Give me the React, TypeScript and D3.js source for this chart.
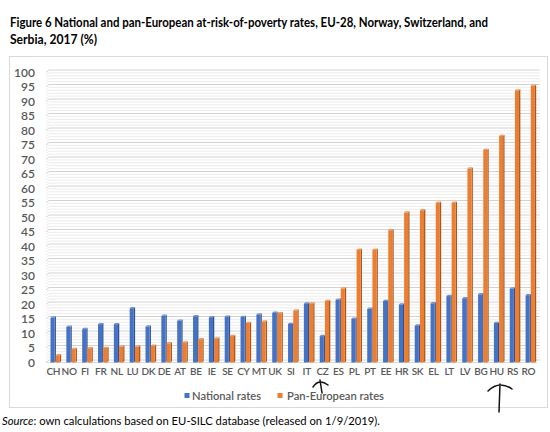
import React from "react";
import * as d3 from "d3";

const categories = ["CH","NO","FI","FR","NL","LU","DK","DE","AT","BE","IE","SE","CY","MT","UK","SI","IT","CZ","ES","PL","PT","EE","HR","SK","EL","LT","LV","BG","HU","RS","RO"];
const nationalRates = [15.5,12.3,11.5,13.2,13.2,18.7,12.4,16.1,14.4,15.9,15.6,15.8,15.7,16.5,17.1,13.3,20.3,9.1,21.6,15.1,18.5,21.2,20.0,12.7,20.4,22.9,22.1,23.5,13.6,25.5,23.2];
const panEuropeanRates = [2.5,4.6,4.9,5.0,5.5,5.5,5.8,6.6,6.9,8.0,8.3,9.1,13.6,14.1,17.0,17.9,20.3,21.2,25.5,38.9,38.9,45.6,51.7,52.5,55.1,55.1,66.9,73.3,78.1,93.8,95.4];
const yTicks = d3.range(0, 101, 5);
const seriesNames = ["National rates", "Pan-European rates"];

const FONT = "Lato, 'Open Sans', sans-serif";
const W = 550, H = 432;

const colors = [
  { front: "#4472C4", side: "#2F528F", top: "#7093D6" },
  { front: "#ED7D31", side: "#A9561E", top: "#F29B60" },
];

export default function App() {
  const x = d3.scaleBand<string>().domain(categories).range([45.4, 536.3]);
  const y = d3.scaleLinear().domain([0, 100]).range([362.5, 72.5]);
  const sub = d3.scaleBand<number>().domain([0, 1]).range([-2.8, 7.4]).paddingInner(0.04);
  const w = sub.bandwidth() - 0.9;
  const d = 1.3;
  const wallDx = 3, wallDy = 2.5;
  const x0 = 46, x1 = 540;
  const minor = d3.range(0, 101, 1).filter((v) => v % 5 !== 0);

  const bars: React.ReactNode[] = [];
  categories.forEach((c, i) => {
    const cx = (x(c) as number) + x.bandwidth() / 2;
    [nationalRates[i], panEuropeanRates[i]].forEach((v, s) => {
      const bx = cx + (sub(s) as number);
      const yt = y(v), yb = y(0);
      const col = colors[s];
      bars.push(
        <g key={c + s}>
          <path d={`M${bx + w},${yb} L${bx + w},${yt} L${bx + w + d},${yt - d} L${bx + w + d},${yb - d} Z`} fill={col.side} />
          <path d={`M${bx},${yt} L${bx + w},${yt} L${bx + w + d},${yt - d} L${bx + d},${yt - d} Z`} fill={col.top} />
          <rect x={bx} y={yt} width={w} height={yb - yt} fill={col.front} />
        </g>
      );
    });
  });

  return (
    <svg width={W} height={H} style={{ position: "absolute", left: 0, top: 0, background: "#fff" }}>
      <text x={10} y={27} fontFamily={FONT} fontWeight={700} fontSize={12.8} fill="#000" textLength={478} lengthAdjust="spacingAndGlyphs">
        Figure 6 National and pan-European at-risk-of-poverty rates, EU-28, Norway, Switzerland, and
      </text>
      <text x={10} y={43.5} fontFamily={FONT} fontWeight={700} fontSize={12.8} fill="#000" textLength={87} lengthAdjust="spacingAndGlyphs">
        Serbia, 2017 (%)
      </text>
      <rect x={9.5} y={56.5} width={538} height={351} fill="#fff" stroke="#d9d9d9" strokeWidth={1} />
      {minor.map((v) => (
        <path key={"m" + v} d={`M${x0},${y(v)} L${x0 + wallDx},${y(v) - wallDy} L${x1},${y(v) - wallDy}`} fill="none" stroke="#ececec" strokeWidth={1} />
      ))}
      {yTicks.map((v) => (
        <path key={"g" + v} d={`M${x0},${y(v)} L${x0 + wallDx},${y(v) - wallDy} L${x1},${y(v) - wallDy}`} fill="none" stroke="#d2d2d2" strokeWidth={1} />
      ))}
      <line x1={x0} x2={x1 - wallDx} y1={y(0)} y2={y(0)} stroke="#d9d9d9" />
      {yTicks.map((v) => (
        <text key={"t" + v} x={35} y={y(v)} dy="0.36em" textAnchor="end" fontFamily={FONT} fontSize={12} fontWeight={600} fill="#595959">
          {v}
        </text>
      ))}
      {bars}
      {categories.map((c) => (
        <text key={"x" + c} x={(x(c) as number) + x.bandwidth() / 2} y={375} textAnchor="middle" fontFamily={FONT} fontSize={10} fontWeight={600} letterSpacing={-0.3} fill="#595959">
          {c}
        </text>
      ))}
      <rect x={184.5} y={393} width={5} height={5} fill={colors[0].front} />
      <text x={192} y={400} fontFamily={FONT} fontSize={11.5} fontWeight={600} fill="#595959" textLength={69} lengthAdjust="spacingAndGlyphs">{seriesNames[0]}</text>
      <rect x={277.5} y={393} width={5} height={5} fill={colors[1].front} />
      <text x={287} y={400} fontFamily={FONT} fontSize={11.5} fontWeight={600} fill="#595959" textLength={97} lengthAdjust="spacingAndGlyphs">{seriesNames[1]}</text>
      <path d="M313,387 Q319,378 328,385 M320,380 L322,393" fill="none" stroke="#111" strokeWidth={1.5} strokeLinecap="round" />
      <path d="M488,391 Q499,380 512,389 M500,384 L499,412" fill="none" stroke="#111" strokeWidth={1.5} strokeLinecap="round" />
      <text x={2} y={425} fontFamily={FONT} fontSize={11.5} fill="#000" textLength={378} lengthAdjust="spacingAndGlyphs">
        <tspan fontStyle="italic">Source</tspan>: own calculations based on EU-SILC database (released on 1/9/2019).
      </text>
    </svg>
  );
}
